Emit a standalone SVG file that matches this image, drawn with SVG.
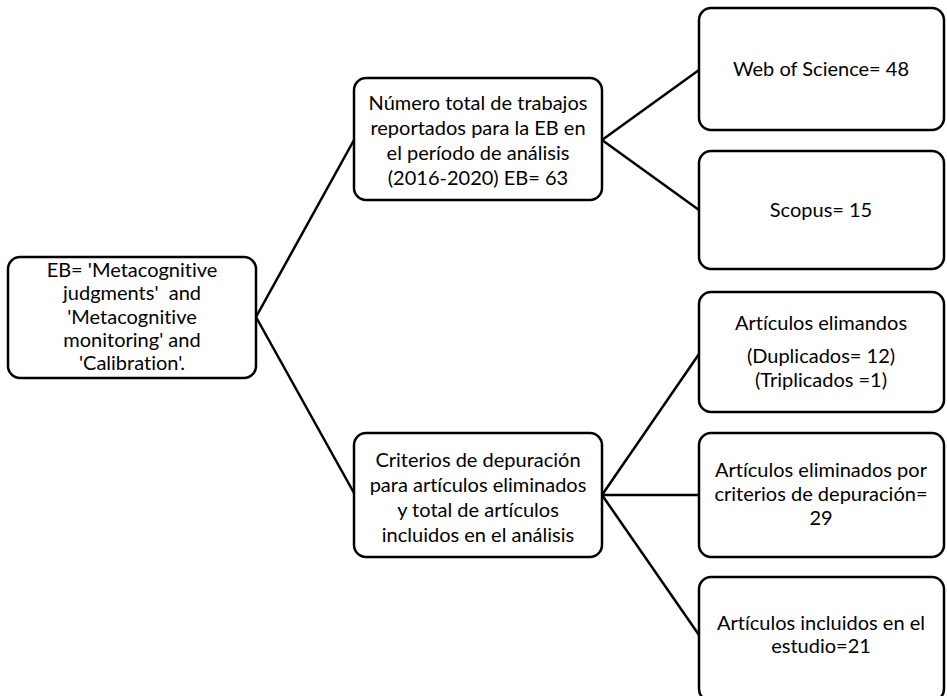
<svg xmlns="http://www.w3.org/2000/svg" width="947" height="696" viewBox="0 0 947 696">
<style>
.box{fill:#fff;stroke:#000;stroke-width:2.5}
.t{font-family:Lato,"Open Sans",sans-serif;font-size:20px;fill:#000;text-anchor:middle;font-variant-ligatures:none}
.c{stroke:#000;stroke-width:2.5;fill:none}
</style>
<rect width="947" height="696" fill="#fff"/>
<g id="connectors">
<line class="c" x1="256" y1="317" x2="354" y2="140"/>
<line class="c" x1="256" y1="317" x2="354" y2="493"/>
<line class="c" x1="602" y1="140" x2="699" y2="70"/>
<line class="c" x1="602" y1="140" x2="699" y2="210"/>
<line class="c" x1="602" y1="495" x2="699" y2="354"/>
<line class="c" x1="602" y1="495" x2="699" y2="495"/>
<line class="c" x1="602" y1="495" x2="699" y2="635"/>
</g>
<g id="n-eb">
<rect class="box" x="8" y="257" width="248" height="121" rx="12"/>
<text class="t" x="132" y="277">EB= 'Metacognitive</text>
<text class="t" x="132" y="300">judgments'&#160; and</text>
<text class="t" x="132" y="324">'Metacognitive</text>
<text class="t" x="132" y="347">monitoring' and</text>
<text class="t" x="132" y="370">'Calibration'.</text>
</g>
<g id="n-total">
<rect class="box" x="354" y="78" width="248" height="122" rx="12"/>
<text class="t" x="478" y="110">Número total de trabajos</text>
<text class="t" x="478" y="135">reportados para la EB en</text>
<text class="t" x="478" y="160">el período de análisis</text>
<text class="t" x="478" y="185">(2016-2020) EB= 63</text>
</g>
<g id="n-criterios">
<rect class="box" x="354" y="433" width="248" height="124" rx="12"/>
<text class="t" x="478" y="467">Criterios de depuración</text>
<text class="t" x="478" y="492">para artículos eliminados</text>
<text class="t" x="478" y="517">y total de artículos</text>
<text class="t" x="478" y="542">incluidos en el análisis</text>
</g>
<g id="n-wos">
<rect class="box" x="699" y="8" width="245" height="122" rx="12"/>
<text class="t" x="821" y="76">Web of Science= 48</text>
</g>
<g id="n-scopus">
<rect class="box" x="699" y="151" width="245" height="118" rx="12"/>
<text class="t" x="821" y="217">Scopus= 15</text>
</g>
<g id="n-elimandos">
<rect class="box" x="699" y="292" width="245" height="120" rx="12"/>
<text class="t" x="821" y="330">Artículos elimandos</text>
<text class="t" x="821" y="363">(Duplicados= 12)</text>
<text class="t" x="821" y="387">(Triplicados =1)</text>
</g>
<g id="n-eliminados">
<rect class="box" x="699" y="433" width="245" height="124" rx="12"/>
<text class="t" x="821" y="477">Artículos eliminados por</text>
<text class="t" x="821" y="501">criterios de depuración=</text>
<text class="t" x="821" y="525">29</text>
</g>
<g id="n-incluidos">
<rect class="box" x="699" y="577" width="245" height="124" rx="12"/>
<text class="t" x="821" y="630">Artículos incluidos en el</text>
<text class="t" x="821" y="653">estudio=21</text>
</g>
</svg>
